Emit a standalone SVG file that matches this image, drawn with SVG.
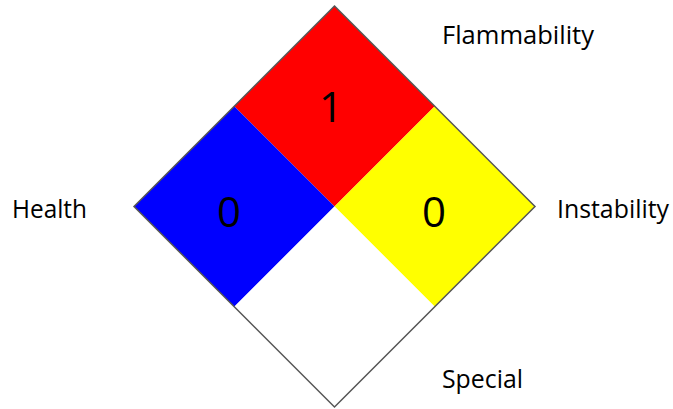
<svg xmlns="http://www.w3.org/2000/svg" width="673" height="409" viewBox="0 0 673 409">
<style>
.lbl{font-family:"Open Sans","Liberation Sans",sans-serif;font-size:25px;fill:#000}
.num{font-family:"Open Sans","Liberation Sans",sans-serif;font-size:42px;fill:#000;text-anchor:middle}
.q{stroke:none}
</style>
<rect width="673" height="409" fill="#fff"/>
<g id="flammability">
<polygon class="q" points="334.5,6 434.75,106.25 334.5,206.5 234.25,106.25" fill="#ff0000"/>
<text class="num" x="331" y="122">1</text>
</g>
<g id="health">
<polygon class="q" points="234.25,106.25 334.5,206.5 234.25,306.75 134,206.5" fill="#0000ff"/>
<text class="num" x="229" y="227">0</text>
</g>
<g id="instability">
<polygon class="q" points="434.75,106.25 535,206.5 434.75,306.75 334.5,206.5" fill="#ffff00"/>
<text class="num" x="434" y="227">0</text>
</g>
<g id="special">
<polygon class="q" points="334.5,206.5 434.75,306.75 334.5,407 234.25,306.75" fill="#ffffff"/>
</g>
<g id="outline">
<polygon points="334.5,6 535,206.5 334.5,407 134,206.5" fill="none" stroke="#555" stroke-width="1.5"/>
</g>
<g id="labels">
<text class="lbl" x="442" y="43.5" textLength="152" lengthAdjust="spacingAndGlyphs">Flammability</text>
<text class="lbl" x="12" y="217.5" textLength="75" lengthAdjust="spacingAndGlyphs">Health</text>
<text class="lbl" x="557" y="217.5" textLength="112" lengthAdjust="spacingAndGlyphs">Instability</text>
<text class="lbl" x="442" y="388" textLength="81" lengthAdjust="spacingAndGlyphs">Special</text>
</g>
</svg>
